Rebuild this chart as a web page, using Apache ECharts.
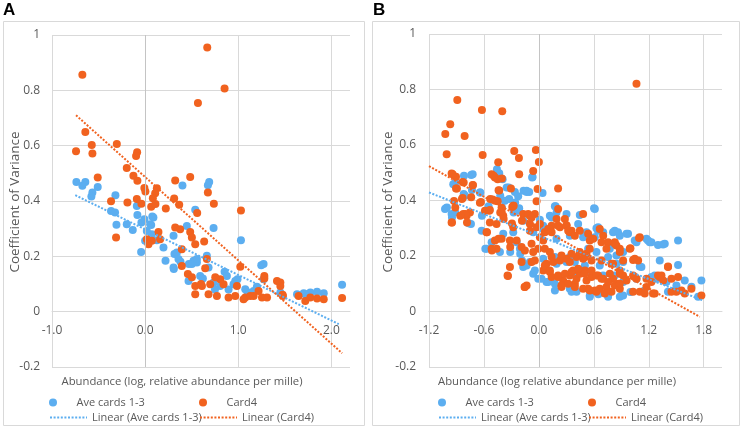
<!DOCTYPE html>
<html><head><meta charset="utf-8">
<script src="https://cdn.jsdelivr.net/npm/echarts@6/dist/echarts.min.js"></script>
<style>html,body{margin:0;padding:0;background:#fff}#c{width:742px;height:428px}</style>
</head><body><div id="c"></div>
<script>
// ---- Panel A data ----
const aBlue = [[-0.738,0.469],[-0.642,0.469],[-0.674,0.455],[-0.509,0.451],[-0.566,0.431],[-0.577,0.416],[-0.319,0.421],[0.401,0.456],[0.688,0.469],[0.674,0.457],[0.538,0.368],[-0.089,0.382],[-0.083,0.349],[-0.008,0.334],[0.077,0.344],[-0.366,0.364],[-0.323,0.358],
[-0.308,0.314],[-0.197,0.316],[-0.133,0.295],[-0.04,0.322],[0.018,0.292],[0.065,0.313],[-0.043,0.216],[0.126,0.258],[0.197,0.232],[0.219,0.184],[0.305,0.274],[0.315,0.208],[0.341,0.214],[0.308,0.154],[0.38,0.18],[0.448,0.31],[0.735,0.302],[1.029,0.258],[0.47,0.172],[0.52,0.184],[0.556,0.178],[0.466,0.111],[0.591,0.129],[0.663,0.202],[0.681,0.16],[0.735,0.105],[0.806,0.093],[0.853,0.144],[0.878,0.129],[0.949,0.099],[0.992,0.117],[1.075,0.081],[1.165,0.075],[1.247,0.168],[1.272,0.172],[1.272,0.117],[1.452,0.069],[1.631,0.063],[1.703,0.067],[1.774,0.069],[1.846,0.072],[1.918,0.067],[2.115,0.097],
[0,0.256],[0.072,0.28],[0.054,0.316],[0.089,0.34],[0.358,0.19],[0.305,0.16],[0.502,0.172],[0.556,0.19],[0.896,0.08],[0.968,0.111],[1.72,0.063],[0.62,0.12],[0.75,0.08],[1.1,0.07],[1.2,0.09]];
const aOrange = [[-0.674,0.856],[0.667,0.955],[0.853,0.807],[0.567,0.754],[-0.742,0.58],[-0.642,0.649],[-0.573,0.602],[-0.566,0.572],[-0.304,0.606],[-0.509,0.485],[-0.086,0.576],[-0.097,0.563],[-0.197,0.519],[-0.126,0.491],[-0.083,0.473],[-0.008,0.447],[0.003,0.434],[0.126,0.446],[0.108,0.428],[0.083,0.41],[0.323,0.474],[0.484,0.487],[0.674,0.431],[0.738,0.39],[0.312,0.409],[0.366,0.386],[0.222,0.373],[0.559,0.357],[1.029,0.366],[-0.366,0.399],[-0.19,0.395],[-0.089,0.407],[-0.04,0.39],[0.065,0.379],[0.111,0.389],
[0.323,0.304],[0.376,0.298],[-0.312,0.268],[0.018,0.262],[0.072,0.256],[0.143,0.288],[0.161,0.262],[0.036,0.244],[0.394,0.226],[0.484,0.288],[0.502,0.268],[0.538,0.244],[0.394,0.165],[0.459,0.136],[0.502,0.124],[0.538,0.093],[0.538,0.063],
[0.634,0.254],[0.663,0.19],[0.645,0.157],[1.022,0.162],[1.28,0.129],[1.452,0.105],[1.452,0.093],[1.476,0.061],[1.648,0.057],[1.72,0.039],[1.774,0.051],[1.846,0.048],[1.918,0.045],[2.115,0.049],
[0.806,0.117],[0.842,0.099],[0.699,0.099],[0.61,0.093],[0.681,0.063],[0.771,0.057],[0.896,0.051],[0.968,0.057],[0.986,0.093],[1.075,0.051],[1.129,0.057],[1.218,0.075],[1.255,0.051],[1.309,0.051],[0.753,0.124],[1.165,0.057],[1.057,0.045],[0.6,0.1],[1.28,0.12],[1.416,0.111],[1.48,0.057]];
const aTrendBlue = [[-0.75,0.421],[2.08,-0.045]];
const aTrendOrange = [[-0.742,0.71],[2.115,-0.15]];

// ---- Panel B data ----
const bBlue = [[-0.818,0.489],[-0.723,0.495],[-0.935,0.459],[-0.433,0.498],[-0.396,0.477],[-0.069,0.485],[-0.352,0.447],[-0.262,0.431],[-0.226,0.415],[-0.134,0.431],[-0.106,0.431],[0.04,0.427],[-0.644,0.429],[-0.807,0.417],[-1.015,0.372],[-0.953,0.351],[-0.371,0.399],[-0.259,0.393],[-0.215,0.372],[0.182,0.379],[0.302,0.351],[0.447,0.348],[0.603,0.372],[0.12,0.345],
[-1.025,0.369],[-0.742,0.315],[-0.625,0.291],[-0.571,0.226],[-0.425,0.214],[-0.516,0.25],[-0.389,0.28],[-0.28,0.286],[-0.134,0.166],[-0.062,0.136],[-0.007,0.118],[0.084,0.106],[0.175,0.1],[0.139,0.339],[0.429,0.315],[0.52,0.286],[0.611,0.369],[0.647,0.291],[0.81,0.286],[0.865,0.286],[0.974,0.28],[1.066,0.25],[1.175,0.262],[1.211,0.25],[1.301,0.24],[1.375,0.244],[1.52,0.256],[1.52,0.168],[1.32,0.184],[1.12,0.16],[0.847,0.202],[0.92,0.214],[1.284,0.118],[1.393,0.106],[1.502,0.094],[1.593,0.112],[1.666,0.089],[1.775,0.112],[1.41,0.071],[0.92,0.058],[0.738,0.065],[0.556,0.058],[0.411,0.071],[0.338,0.082],[0.265,0.19],[0.338,0.196],[0.193,0.172],[0.047,0.19],[0.011,0.309],[0.047,0.297],[0.193,0.357],[-0.171,0.327],[-0.243,0.25],[-0.207,0.226],[0.193,0.262],[0.338,0.273],[0.483,0.268],[0.702,0.286],[0.775,0.226],[0.538,0.226],[0.629,0.214],[0.665,0.166],[0.411,0.13],[0.556,0.142],[0.702,0.13],[0.829,0.13],[0.92,0.106],[1.066,0.118],
[-0.585,0.226],[-0.313,0.214],[-0.204,0.208],[-0.185,0.184],[-0.171,0.16],
[-0.739,0.492],[-0.913,0.465],[-0.64,0.429],[-0.821,0.423],[-1.004,0.375],[-0.913,0.357],[-0.33,0.447],[-0.167,0.435],[-0.422,0.417],[-0.549,0.379],[-0.404,0.375],[-0.324,0.405],[-0.276,0.357],[-0.222,0.363],[-0.458,0.513],[-0.731,0.438],[-0.949,0.339],[-0.767,0.318],[-0.622,0.345],
[-0.073,0.483],[-0.134,0.435],[0.175,0.379],[0.629,0.3],[0.011,0.331],
[1.047,0.256],[1.192,0.256],[1.229,0.25],[1.356,0.241],[0.884,0.273],[0.957,0.28],[0.92,0.178],[1.102,0.162],[0.884,0.053],[1.739,0.053],[1.484,0.076],[1.229,0.124],[1.265,0.13],
[0.047,0.309],[-0.062,0.286],[0.647,0.304],[0.829,0.291],[0.611,0.268],[0.756,0.196],[0.847,0.172],[0.502,0.166],[0.393,0.178],[0.302,0.178],[0.175,0.196],[-0.098,0.178],[-0.044,0.148],[0.029,0.118],[0.102,0.106],[0.175,0.076],[0.357,0.071],[0.556,0.053],[0.756,0.053],[0.902,0.058],[1.0,0.07],[1.15,0.075],[0.65,0.062]];
const bOrange = [[1.066,0.821],[-0.891,0.762],[-0.968,0.675],[-1.022,0.64],[-0.811,0.632],[-1.007,0.567],[-0.622,0.726],[-0.4,0.722],[-0.614,0.564],[-0.269,0.578],[-0.218,0.553],[-0.033,0.582],[0.0,0.539],[-0.444,0.538],[-0.215,0.495],[-0.062,0.506],[-0.516,0.495],[-0.48,0.483],[-0.45,0.477],[-0.953,0.497],[-0.905,0.486],[-0.833,0.467],[-0.723,0.455],[-0.905,0.443],[-0.305,0.443],[-0.433,0.436],[-0.014,0.441],[0.21,0.443],[-0.927,0.398],[-0.833,0.409],[-0.739,0.412],[-0.633,0.395],[-0.505,0.404],[-0.45,0.397],[-0.291,0.377],[-0.025,0.397],[0.21,0.369],[0.483,0.351],[-0.535,0.366],[-0.407,0.36],
[-0.953,0.321],[-0.826,0.351],[-0.753,0.357],[-0.789,0.345],[-0.571,0.286],[-0.589,0.363],[-0.644,0.392],[-0.535,0.321],[-0.462,0.315],[-0.389,0.345],[-0.407,0.374],[-0.516,0.226],[-0.462,0.226],[-0.48,0.256],[-0.407,0.262],[-0.316,0.256],[-0.243,0.256],[-0.316,0.16],[-0.342,0.13],[-0.189,0.178],[-0.153,0.088],[-0.28,0.381],[-0.28,0.304],[-0.171,0.351],[-0.098,0.345],[-0.044,0.351],[-0.098,0.315],[-0.098,0.291],[-0.062,0.214],[-0.044,0.184],[-0.08,0.178],[-0.007,0.226],[0.011,0.315],[0.065,0.286],[0.102,0.297],[0.047,0.256],[0.139,0.286],[0.047,0.148],[0.12,0.142],[0.084,0.172],[0.157,0.178],[0.139,0.124],[0.12,0.214],[0.284,0.333],[0.302,0.309],[0.23,0.304],[0.338,0.286],[0.357,0.291],[0.447,0.291],[0.393,0.273],[0.23,0.184],[0.302,0.19],[0.338,0.178],[0.411,0.196],[0.483,0.19],[0.52,0.208],
[0.21,0.13],[0.265,0.112],[0.247,0.088],[0.338,0.13],[0.375,0.148],[0.411,0.118],[0.393,0.1],[0.447,0.136],[0.502,0.148],[0.52,0.112],[0.538,0.082],[0.611,0.076],[0.665,0.082],[0.738,0.088],[0.575,0.124],[0.647,0.13],[0.702,0.118],[0.775,0.136],[0.81,0.118],[0.865,0.1],[0.884,0.136],[0.957,0.112],[0.81,0.172],[0.92,0.184],[0.993,0.226],[1.047,0.19],[1.084,0.184],[1.029,0.13],[1.066,0.118],[1.175,0.118],[1.175,0.088],[1.265,0.065],[1.339,0.13],[1.357,0.112],[1.41,0.16],[1.448,0.118],[1.52,0.124],[1.557,0.076],[1.593,0.065],[1.666,0.082],[1.775,0.058],
[1.102,0.268],[0.847,0.238],[0.829,0.25],[0.702,0.273],[0.756,0.25],[0.665,0.297],[0.556,0.256],[0.556,0.226],
[-0.567,0.286],[-0.44,0.262],[-0.513,0.22],[-0.313,0.232],[-0.338,0.128],[-0.156,0.088],[-0.189,0.232],
[-0.942,0.495],[-0.821,0.465],[-0.72,0.456],[-0.895,0.443],[-0.494,0.489],[-0.404,0.479],[-0.44,0.437],[-0.84,0.405],[-0.913,0.375],[-0.531,0.405],[-0.477,0.399],[-0.542,0.363],[-0.422,0.357],[-0.385,0.333],[-0.185,0.327],[-0.804,0.351],[-0.858,0.345],[-0.949,0.321],[-0.276,0.381],[-0.785,0.321],[-0.294,0.317],
[-0.117,0.351],[-0.08,0.339],[0.193,0.333],[0.139,0.309],[0.302,0.311],
[1.094,0.265],[1.0,0.228],[0.884,0.226],[1.029,0.186],[1.411,0.162],[1.301,0.13],[1.32,0.124],[1.047,0.124],[1.229,0.106],[1.448,0.071],[1.502,0.071],[1.029,0.071],[1.102,0.071],[1.156,0.065],[1.247,0.065],[0.884,0.148],[0.92,0.13],[0.884,0.082],
[-0.025,0.304],[0.12,0.297],[0.21,0.309],[0.32,0.291],[0.538,0.28],[0.593,0.262],[0.684,0.25],[0.738,0.226],[0.829,0.244],[0.884,0.214],[0.011,0.268],[0.065,0.226],[-0.08,0.244],[0.139,0.196],[0.247,0.202],[0.357,0.208],[0.447,0.214],[0.502,0.196],[0.575,0.184],[0.684,0.184],[0.793,0.172],[0.065,0.166],[0.12,0.148],[0.21,0.124],[0.284,0.136],[0.357,0.142],[0.429,0.154],[0.502,0.136],[0.575,0.148],[0.629,0.13],[0.684,0.118],[0.756,0.106],[0.829,0.094],[0.884,0.1],[0.247,0.094],[0.32,0.1],[0.393,0.088],[0.483,0.082],[0.556,0.076],[0.629,0.071],[0.72,0.065],[0.793,0.071],[-0.153,0.22],[-0.134,0.094]];
const bTrendBlue = [[-1.2,0.429],[1.79,0.04]];
const bTrendOrange = [[-1.2,0.524],[1.757,-0.019]];

const seriesNames = ['Ave cards 1-3','Card4','Linear (Ave cards 1-3)','Linear (Card4)'];
const panelLabels = ['A','B'];
const xTitles = ['Abundance (log, relative abundance per mille)','Abundance (log relative abundance per mille)'];
const yTitle = 'Coefficient of Variance';

const BLUE = '#5CAEF0', ORANGE = '#F1621F', GRID = '#d9d9d9', TXT = '#595959';
const FONT = '"Open Sans", sans-serif';
const Y_MIN = -0.2, Y_MAX = 1;
const grids = [{left:52, top:35, width:298, height:332}, {left:429, top:34, width:293, height:333}];

// x axis placed at y = 0 (offset from bottom of grid, computed through the y range)
function xAxisCfg(idx, min, max, interval){
  const g = grids[idx];
  const zeroOffset = g.height * (0 - Y_MIN) / (Y_MAX - Y_MIN);
  return {type:'value', gridIndex:idx, min, max, interval, position:'bottom', offset:-zeroOffset,
    axisLine:{show:true, onZero:false, lineStyle:{color:GRID}},
    axisTick:{show:false},
    splitLine:{show:true, showMaxLine:false, lineStyle:{color:GRID}},
    axisLabel:{color:TXT, fontSize:12, fontFamily:FONT, margin:13, showMaxLabel:false,
      formatter:v=>Number(v).toFixed(1)}};
}
function yAxisCfg(idx, margin){
  return {type:'value', gridIndex:idx, min:Y_MIN, max:Y_MAX, interval:0.2,
    axisLine:{show:false, onZero:false}, axisTick:{show:false},
    splitLine:{show:true, lineStyle:{color:GRID}},
    axisLabel:{color:TXT, fontSize:12, fontFamily:FONT, margin}};
}
function scatter(name, data, color, idx, withZero){
  const s = {type:'scatter', name, data, xAxisIndex:idx, yAxisIndex:idx, symbol:'circle', symbolSize:8,
    itemStyle:{color, opacity:1}, emphasis:{disabled:true}, z:2};
  if (withZero) s.markLine = {silent:true, symbol:['none','none'], label:{show:false},
    lineStyle:{color:'#c4c4c4', type:'solid', width:1}, data:[{xAxis:0}], animation:false};
  return s;
}
function trend(name, data, color, idx){
  return {type:'line', name, data, xAxisIndex:idx, yAxisIndex:idx, symbol:'none', showSymbol:false,
    lineStyle:{color, width:2, type:[2,1.6]}, itemStyle:{color}, z:3, emphasis:{disabled:true}};
}
function legendItem(name, left, top, isLine){
  const l = {data:[name], left, top, padding:0, itemWidth:37, itemHeight:8,
    textStyle:{color:TXT, fontSize:11, fontFamily:FONT}, selectedMode:false};
  if (isLine) l.itemStyle = {opacity:0, borderWidth:0};
  return l;
}

const chart = echarts.init(document.getElementById('c'), null, {renderer:'canvas'});
chart.setOption({
  animation:false,
  backgroundColor:'#fff',
  grid:grids,
  xAxis:[xAxisCfg(0,-1,2.2,1), xAxisCfg(1,-1.2,2.0,0.6)],
  yAxis:[yAxisCfg(0,12), yAxisCfg(1,13)],
  legend:[
    legendItem(seriesNames[0],49,397,false), legendItem(seriesNames[1],199,397,false),
    legendItem(seriesNames[2],49,412,true), legendItem(seriesNames[3],199,412,true),
    legendItem(seriesNames[0],438,397,false), legendItem(seriesNames[1],588,397,false),
    legendItem(seriesNames[2],438,412,true), legendItem(seriesNames[3],588,412,true)
  ],
  series:[
    scatter(seriesNames[0], aBlue, BLUE, 0, true),
    scatter(seriesNames[1], aOrange, ORANGE, 0, false),
    trend(seriesNames[2], aTrendBlue, BLUE, 0),
    trend(seriesNames[3], aTrendOrange, ORANGE, 0),
    scatter(seriesNames[0], bBlue, BLUE, 1, true),
    scatter(seriesNames[1], bOrange, ORANGE, 1, false),
    trend(seriesNames[2], bTrendBlue, BLUE, 1),
    trend(seriesNames[3], bTrendOrange, ORANGE, 1)
  ],
  graphic:[
    {type:'rect', shape:{x:3.5,y:21.5,width:361,height:404}, style:{fill:null, stroke:GRID, lineWidth:1}, silent:true, z:-1},
    {type:'rect', shape:{x:372.5,y:21.5,width:367,height:404}, style:{fill:null, stroke:GRID, lineWidth:1}, silent:true, z:-1},
    {type:'text', x:3, y:2, style:{text:panelLabels[0], fontSize:17, fontWeight:'bold', fill:'#000', fontFamily:'"Liberation Sans", Arial, sans-serif'}},
    {type:'text', x:373, y:2, style:{text:panelLabels[1], fontSize:17, fontWeight:'bold', fill:'#000', fontFamily:'"Liberation Sans", Arial, sans-serif'}},
    {type:'text', x:15, y:202, rotation:Math.PI/2, style:{text:yTitle, fontSize:13.5, fill:TXT, fontFamily:FONT, align:'center', verticalAlign:'middle'}},
    {type:'text', x:388, y:202, rotation:Math.PI/2, style:{text:yTitle, fontSize:13.5, fill:TXT, fontFamily:FONT, align:'center', verticalAlign:'middle'}},
    {type:'text', x:182, y:382, style:{text:xTitles[0], fontSize:11.3, fill:TXT, fontFamily:FONT, align:'center', verticalAlign:'middle'}},
    {type:'text', x:557, y:382, style:{text:xTitles[1], fontSize:11.3, fill:TXT, fontFamily:FONT, align:'center', verticalAlign:'middle'}}
  ]
});
</script></body></html>
